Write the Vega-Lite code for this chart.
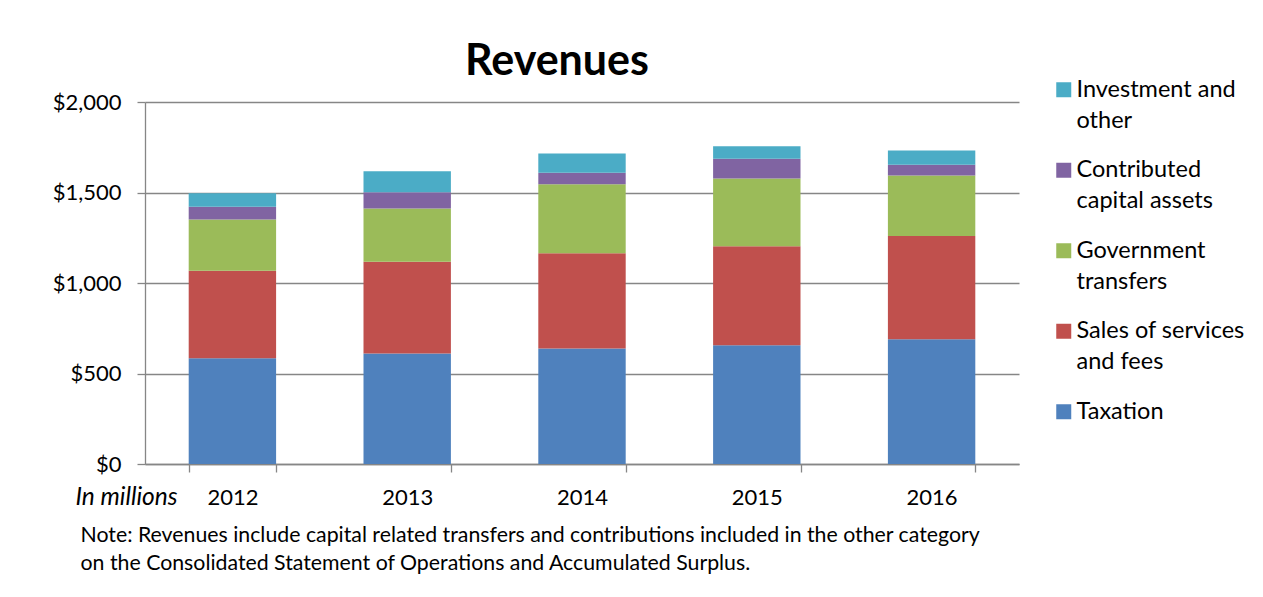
{
  "$schema": "https://vega.github.io/schema/vega-lite/v6.json",
  "autosize": "none",
  "width": 874,
  "height": 362,
  "padding": {"left": 145, "top": 102, "right": 244, "bottom": 133},
  "background": "white",
  "title": {
    "text": "Revenues",
    "anchor": "middle",
    "dx": -25,
    "offset": -6,
    "font": "Lato",
    "fontSize": 43,
    "fontWeight": "bold",
    "color": "#000000"
  },
  "data": {
    "values": [
      {"year": "2012", "source": "Taxation", "value": 584},
      {"year": "2012", "source": "Sales of services and fees", "value": 483},
      {"year": "2012", "source": "Government transfers", "value": 284},
      {"year": "2012", "source": "Contributed capital assets", "value": 70},
      {"year": "2012", "source": "Investment and other", "value": 75},
      {"year": "2013", "source": "Taxation", "value": 610},
      {"year": "2013", "source": "Sales of services and fees", "value": 507},
      {"year": "2013", "source": "Government transfers", "value": 295},
      {"year": "2013", "source": "Contributed capital assets", "value": 90},
      {"year": "2013", "source": "Investment and other", "value": 116},
      {"year": "2014", "source": "Taxation", "value": 638},
      {"year": "2014", "source": "Sales of services and fees", "value": 527},
      {"year": "2014", "source": "Government transfers", "value": 381},
      {"year": "2014", "source": "Contributed capital assets", "value": 63},
      {"year": "2014", "source": "Investment and other", "value": 107},
      {"year": "2015", "source": "Taxation", "value": 656},
      {"year": "2015", "source": "Sales of services and fees", "value": 547},
      {"year": "2015", "source": "Government transfers", "value": 375},
      {"year": "2015", "source": "Contributed capital assets", "value": 108},
      {"year": "2015", "source": "Investment and other", "value": 70},
      {"year": "2016", "source": "Taxation", "value": 689},
      {"year": "2016", "source": "Sales of services and fees", "value": 570},
      {"year": "2016", "source": "Government transfers", "value": 335},
      {"year": "2016", "source": "Contributed capital assets", "value": 59},
      {"year": "2016", "source": "Investment and other", "value": 79}
    ]
  },
  "transform": [
    {"calculate": "indexof(['Taxation','Sales of services and fees','Government transfers','Contributed capital assets','Investment and other'], datum.source)", "as": "stackOrder"}
  ],
  "mark": {"type": "bar"},
  "encoding": {
    "x": {
      "field": "year",
      "type": "nominal",
      "scale": {"paddingInner": 0.5, "paddingOuter": 0.25},
      "axis": {
        "labelAngle": 0,
        "labelFont": "Lato",
        "labelFontSize": 22,
        "labelColor": "#000000",
        "labelPadding": 15,
        "tickBand": "extent",
        "ticks": true,
        "tickSize": 8,
        "tickColor": "#868686",
        "tickWidth": 1.3,
        "domainColor": "#868686",
        "domainWidth": 1.3,
        "grid": false,
        "title": ["Note: Revenues include capital related transfers and contributions included in the other category", "on the Consolidated Statement of Operations and Accumulated Surplus."],
        "titleFont": "Lato",
        "titleFontSize": 21.3,
        "titleFontWeight": "normal",
        "titleColor": "#000000",
        "titleAlign": "left",
        "titleAnchor": null,
        "titleX": -65,
        "titleY": 60,
        "titleBaseline": "top",
        "titleLineHeight": 28
      }
    },
    "y": {
      "field": "value",
      "type": "quantitative",
      "stack": "zero",
      "scale": {"domain": [0, 2000], "nice": false},
      "axis": {
        "values": [0, 500, 1000, 1500, 2000],
        "format": "$,.0f",
        "labelFont": "Lato",
        "labelFontSize": 22,
        "labelColor": "#000000",
        "labelPadding": 16,
        "tickSize": 8,
        "tickColor": "#868686",
        "tickWidth": 1.3,
        "domainColor": "#868686",
        "domainWidth": 1.3,
        "grid": true,
        "gridColor": "#868686",
        "gridWidth": 1.3,
        "title": "In millions",
        "titleFont": "Lato",
        "titleFontSize": 24.5,
        "titleFontStyle": "italic",
        "titleFontWeight": "normal",
        "titleColor": "#000000",
        "titleAngle": 0,
        "titleAlign": "center",
        "titleBaseline": "middle",
        "titleAnchor": null,
        "titleX": -19,
        "titleY": 395
      }
    },
    "color": {
      "field": "source",
      "type": "nominal",
      "scale": {
        "domain": ["Investment and other", "Contributed capital assets", "Government transfers", "Sales of services and fees", "Taxation"],
        "range": ["#4BACC6", "#8064A2", "#9BBB59", "#C0504D", "#4F81BD"]
      },
      "legend": {
        "title": null,
        "orient": "none",
        "legendX": 907,
        "legendY": -24,
        "symbolType": "square",
        "symbolSize": 225,
        "symbolStrokeWidth": 0,
        "labelFont": "Lato",
        "labelFontSize": 23.5,
        "labelColor": "#000000",
        "labelOffset": 1,
        "labelBaseline": "middle",
        "labelLimit": 300,
        "rowPadding": 24.5,
        "encode": {"labels": {"update": {"lineHeight": {"value": 31}}}},
        "labelExpr": "datum.label == 'Investment and other' ? [' Investment and', 'other'] : datum.label == 'Contributed capital assets' ? ['Contributed', 'capital assets'] : datum.label == 'Government transfers' ? ['Government', 'transfers'] : datum.label == 'Sales of services and fees' ? ['Sales of services', 'and fees'] : datum.label"
      }
    },
    "order": {"field": "stackOrder", "type": "quantitative", "sort": "ascending"}
  },
  "config": {
    "view": {"stroke": null},
    "axis": {"gridOpacity": 1}
  }
}
